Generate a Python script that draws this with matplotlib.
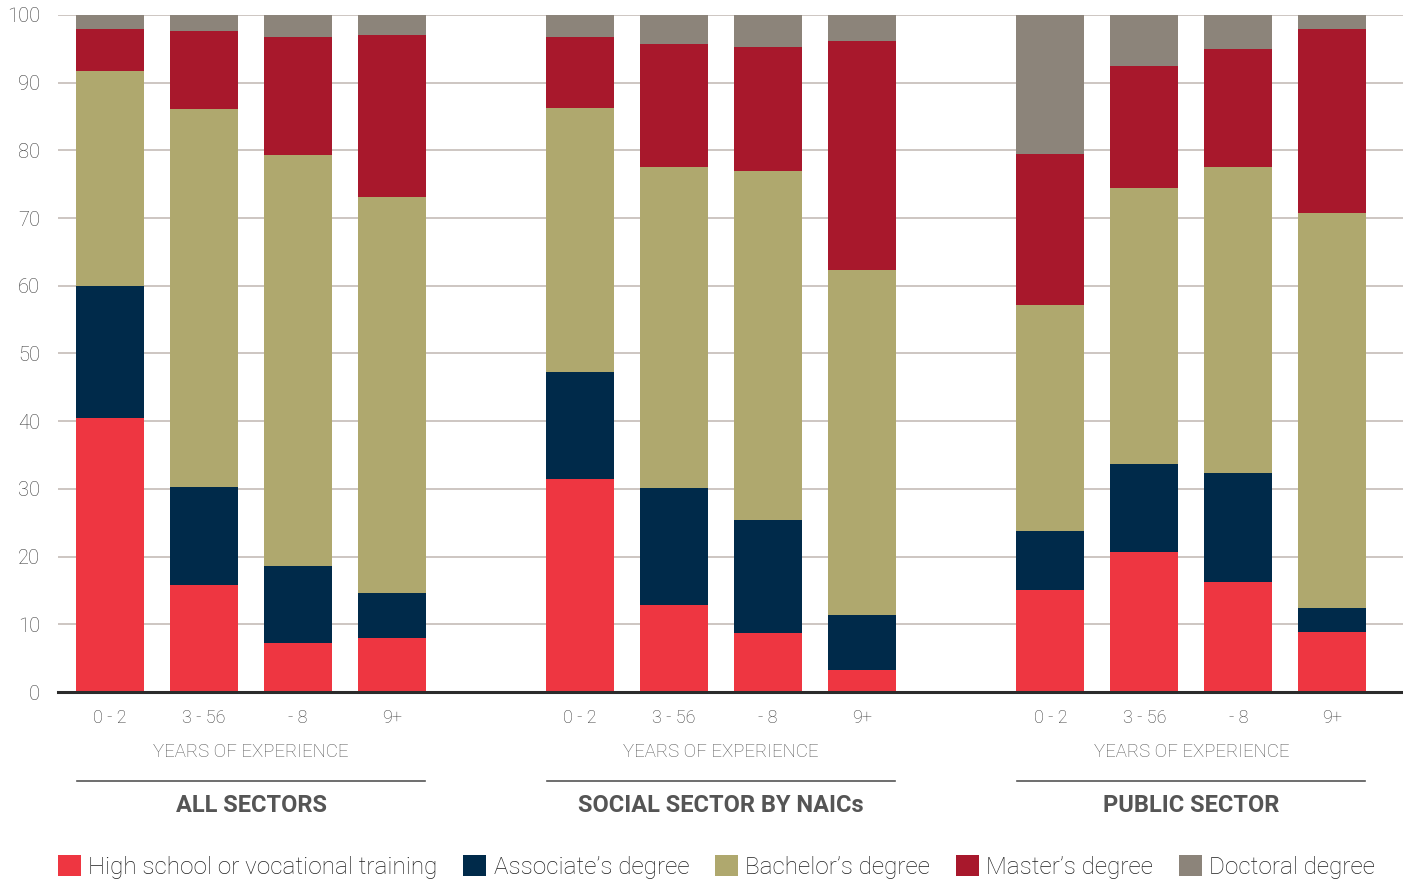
import matplotlib.pyplot as plt
from matplotlib.patches import Patch
import matplotlib.transforms as mtransforms

plt.rcParams['font.family'] = ['Roboto', 'DejaVu Sans']

sectors = ['ALL SECTORS', 'SOCIAL SECTOR BY NAICs', 'PUBLIC SECTOR']
experience = ['0 - 2', '3 - 56', '- 8', '9+']

degrees = ['High school or vocational training', 'Associate\u2019s degree',
           'Bachelor\u2019s degree', 'Master\u2019s degree', 'Doctoral degree']
colors = ['#EE3641', '#002A4A', '#AFA86E', '#A8182C', '#8C847A']

# shares (%) per bar: all sectors x4, social sector x4, public sector x4
high_school = [40.5, 15.8, 7.2, 8.0, 31.5, 12.9, 8.7, 3.2, 15.1, 20.7, 16.3, 8.9]
associate = [19.5, 14.5, 11.4, 6.6, 15.8, 17.3, 16.7, 8.2, 8.7, 13.0, 16.1, 3.5]
bachelor = [31.7, 55.8, 60.7, 58.5, 38.9, 47.3, 51.5, 51.0, 33.4, 40.7, 45.2, 58.4]
master = [6.2, 11.5, 17.5, 23.9, 10.5, 18.2, 18.4, 33.7, 22.2, 18.0, 17.3, 27.2]
doctoral = [2.1, 2.4, 3.2, 3.0, 3.3, 4.3, 4.7, 3.9, 20.6, 7.6, 5.1, 2.0]
series = [high_school, associate, bachelor, master, doctoral]

x = [g * 5 + i for g in range(len(sectors)) for i in range(len(experience))]

fig = plt.figure(figsize=(14.03, 8.8), dpi=100)
ax = fig.add_axes([0.0413, 0.2136, 0.9587, 0.7694])

bottom = [0.0] * len(x)
for vals, col, name in zip(series, colors, degrees):
    ax.bar(x, vals, width=0.723, bottom=bottom, color=col, label=name, zorder=2)
    bottom = [b + v for b, v in zip(bottom, vals)]

ax.set_ylim(0, 100)
ax.set_xlim(-0.553, 13.75)
ax.set_yticks(range(0, 101, 10))
ax.yaxis.grid(True, color='#CDC6C2', linewidth=1.4, zorder=0)
ax.set_axisbelow(True)
for s in ['top', 'right', 'left']:
    ax.spines[s].set_visible(False)
ax.spines['bottom'].set_color('#2B2B2B')
ax.spines['bottom'].set_linewidth(2.2)
ax.spines['bottom'].set_zorder(3)

ax.set_xticks(x)
ax.set_xticklabels(experience * len(sectors))
ax.tick_params(axis='x', length=0, pad=12, labelsize=13, labelcolor='#3C3C3C')
ax.tick_params(axis='y', length=0, pad=13, labelsize=14.5, labelcolor='#3C3C3C')
for lbl in ax.get_xticklabels() + ax.get_yticklabels():
    lbl.set_fontweight('light')

trans = mtransforms.blended_transform_factory(ax.transData, ax.transAxes)
for g, name in enumerate(sectors):
    start = g * 5
    center = start + 1.5
    ax.text(center, -0.089, 'YEARS OF EXPERIENCE', transform=trans, ha='center',
            va='center', fontsize=13.4, color='#555555', fontweight='light')
    ax.plot([start - 0.35, start + 3.35], [-0.1315, -0.1315], transform=trans,
            color='#555555', linewidth=1.2, clip_on=False)
    ax.text(center, -0.167, name, transform=trans, ha='center', va='center',
            fontsize=17, color='#555555', fontweight='bold')

handles = [Patch(facecolor=c, label=d) for c, d in zip(colors, degrees)]
leg = fig.legend(handles=handles, loc='lower center', ncol=5, frameon=False,
                 bbox_to_anchor=(0.5107, -0.024), fontsize=17.5, handlelength=0.95,
                 handleheight=0.95, handletextpad=0.3, columnspacing=1.05)
for t in leg.get_texts():
    t.set_color('#1E1E1E')
    t.set_fontweight('light')

fig.savefig('out.png', dpi=100)
